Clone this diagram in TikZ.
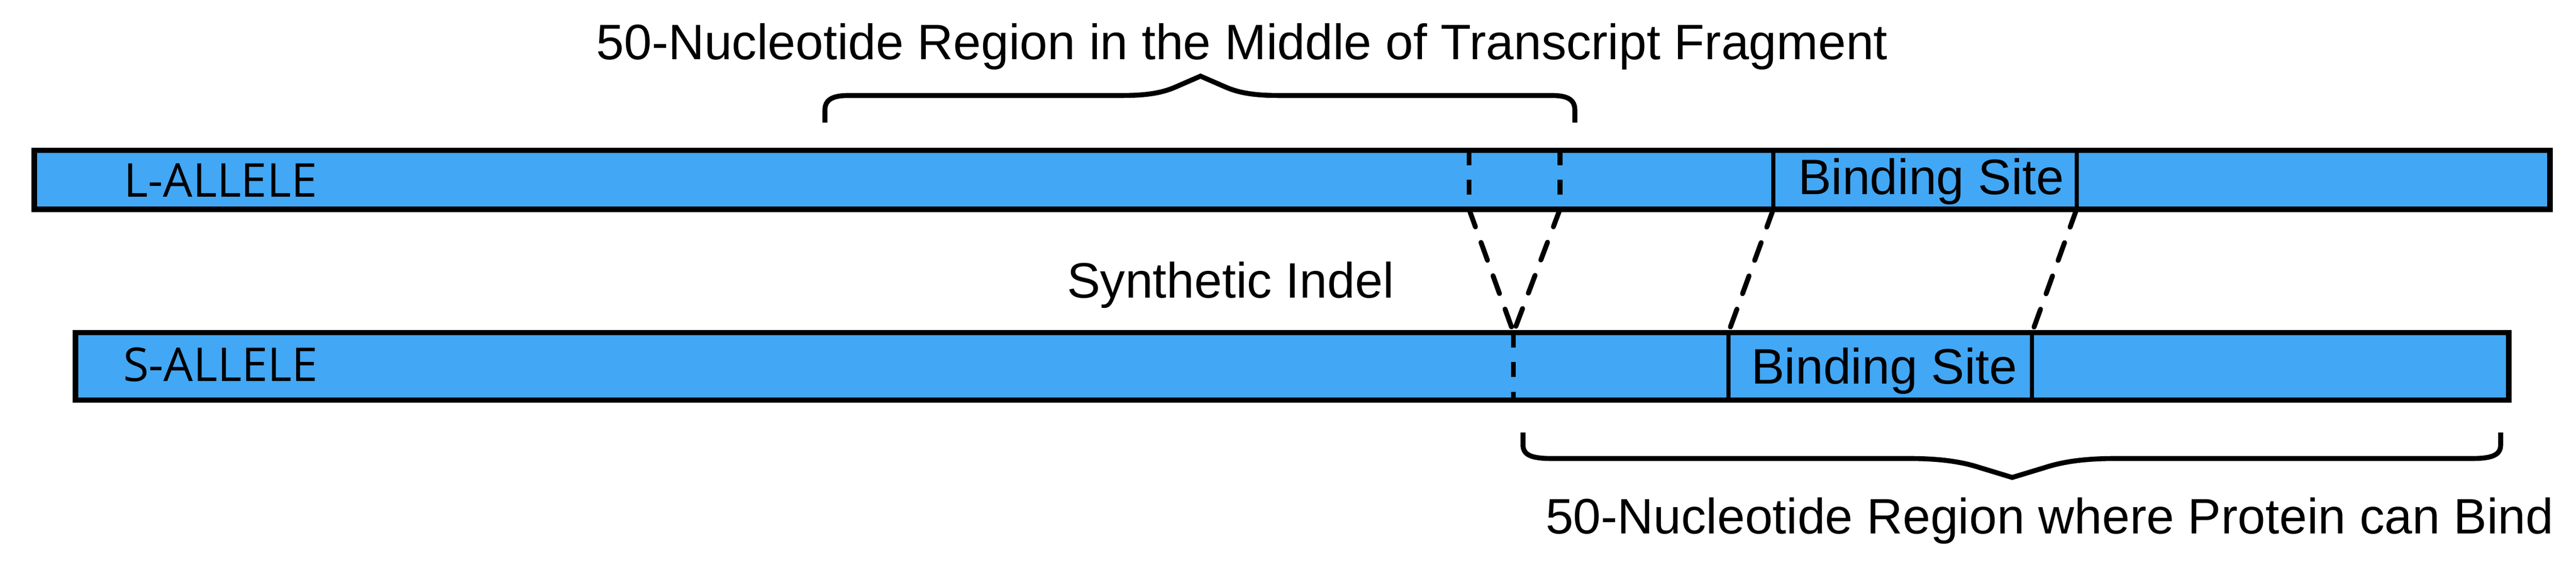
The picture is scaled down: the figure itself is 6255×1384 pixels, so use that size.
\documentclass[tikz,border=0pt]{standalone}
\usepackage{fontspec}
\setmainfont{Liberation Sans}
\newfontfamily\allelefont{Open Sans}
\usetikzlibrary{positioning,calc}
\definecolor{alleleblue}{RGB}{66,167,245}

\begin{document}
\begin{tikzpicture}[x=0.01cm, y=-0.01cm,
    every node/.style={inner sep=0pt, outer sep=0pt},
    allele/.style={rectangle, draw, fill=alleleblue, line width=0.13cm},
    site/.style={rectangle, draw, line width=0.1cm, font=\fontsize{34.4}{40}\selectfont},
    txt/.style={font=\fontsize{34.4}{40}\selectfont},
    tag/.style={font=\allelefont\fontsize{32.2}{38}\selectfont},
    cut/.style={line width=0.12cm, dash pattern=on 0.36cm off 0.36cm},
    link/.style={line width=0.12cm, line cap=round, dash pattern=on 0.46cm off 0.4cm},
    brace/.style={line width=0.12cm, miter limit=20}]
    \useasboundingbox (0,0) rectangle (6255,1384);

    % Draw the two alleles
    \node[allele, minimum width=61.05cm, minimum height=1.43cm] (L) at (3137.5,437) {};
    \node[allele, minimum width=59.05cm, minimum height=1.64cm] (S) at (3137.5,890) {};
    \node[tag, anchor=base west] (Lname) at (301,479) {L-ALLELE};
    \node[tag, anchor=base west] (Sname) at (299,926) {S-ALLELE};

    % Draw the binding sites
    \node[site, text depth=0.16cm, minimum width=7.36cm, minimum height=1.43cm] (Lsite) at (4674,437) {\hspace{0.3cm}Binding Site};
    \node[site, text depth=0.02cm, minimum width=7.37cm, minimum height=1.64cm] (Ssite) at (4565.5,890) {\hspace{0.2cm}Binding Site};
    \draw[link] (Lsite.south west) -- (Ssite.north west);
    \draw[link] (Lsite.south east) -- (Ssite.north east);

    % Draw the indel
    \coordinate (i1) at (3567,365);
    \coordinate (i2) at (3567,508);
    \coordinate (i3) at (3788,365);
    \coordinate (i4) at (3788,508);
    \coordinate (i5) at (3675,808);
    \coordinate (i6) at (3675,971);
    \draw[cut] (i1) -- (i2);
    \draw[cut] (i3) -- (i4);
    \draw[cut] (i5) -- (i6);
    \draw[link] (i2) -- (i5);
    \draw[link] (i4) -- (i5);
    \node[txt, anchor=base] (indelnote) at (2988,724) {Synthetic Indel};

    % Draw the braces
    \coordinate (b1) at (2003,298);
    \coordinate (b2) at (3824,298);
    \coordinate (b3) at (6072,1051);
    \coordinate (b4) at (3698,1051);
    \draw[brace] (b1) -- (2003,268) .. controls (2003,243) and (2020,232) .. (2060,232) -- (2726,232)
        .. controls (2790,232) and (2825,224) .. (2853,212) -- (2915,185) -- (2977,212)
        .. controls (3005,224) and (3040,232) .. (3104,232)
        -- (3768,232) .. controls (3808,232) and (3824,243) .. (3824,268) -- (b2);
    \draw[brace] (b4) -- (3698,1080) .. controls (3698,1104) and (3715,1114) .. (3768,1114) -- (4637,1114)
        .. controls (4720,1114) and (4770,1124) .. (4807,1136) -- (4886,1160) -- (4965,1136)
        .. controls (5002,1124) and (5052,1114) .. (5135,1114)
        -- (6002,1114) .. controls (6055,1114) and (6072,1104) .. (6072,1080) -- (b3);
    \node[txt, anchor=base] (topnote) at (3016,144) {50-Nucleotide Region in the Middle of Transcript Fragment};
    \node[txt, anchor=base] (bindnote) at (4977,1297) {50-Nucleotide Region where Protein can Bind};
\end{tikzpicture}
\end{document}
